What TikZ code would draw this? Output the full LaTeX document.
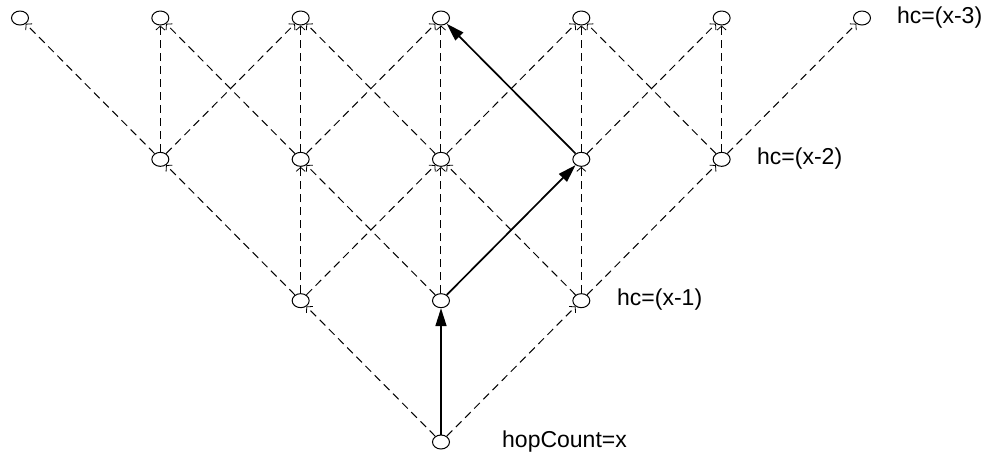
\documentclass[tikz,border=0pt]{standalone}
\usepackage{fontspec}
\setmainfont{Liberation Sans}
\usetikzlibrary{arrows.meta,shapes.geometric}
\begin{document}
\begin{tikzpicture}[x=1pt,y=-1pt,
  hnode/.style={draw=black,ellipse,line width=1pt,minimum width=17pt,minimum height=14pt,inner sep=0pt,fill=white},
  dedge/.style={draw=black,dash pattern=on 8pt off 5pt,line width=1pt,-{Straight Barb[length=4pt,width=9pt,line width=0.8pt]}},
  sedge/.style={draw=black,line width=1.7pt,-{Triangle[length=18pt,width=11pt]}},
  lbl/.style={anchor=west,inner sep=0pt,font=\fontsize{23}{27}\selectfont}]
\useasboundingbox (0,0) rectangle (989,453);
% nodes
\foreach \r/\cmin/\cmax in {0/3/3,1/2/4,2/1/5,3/0/6}{
  \foreach \c in {\cmin,...,\cmax}{
    \node[hnode] (n-\r-\c) at ({20+140.33*\c},{442-141.33*\r}) {};
  }
}
% dashed edges
\foreach \r/\cmin/\cmax in {0/3/3,1/2/4,2/1/5}{
  \pgfmathtruncatemacro\rr{\r+1}
  \foreach \c in {\cmin,...,\cmax}{
    \foreach \d in {-1,0,1}{
      \pgfmathtruncatemacro\tc{\c+\d}
      \pgfmathtruncatemacro\ecode{\r*100+\c*10+\d+1}
      \ifnum\ecode=31 \else\ifnum\ecode=132 \else\ifnum\ecode=240 \else
        \draw[dedge] (n-\r-\c) -- (n-\rr-\tc);
      \fi\fi\fi
    }
  }
}
% solid path
\draw[sedge] (n-0-3) -- (n-1-3);
\draw[sedge] (n-1-3) -- (n-2-4);
\draw[sedge] (n-2-4) -- (n-3-3);
% labels
\node[lbl] (l3) at (897,18) {hc=(x-3)};
\node[lbl] (l2) at (757,159) {hc=(x-2)};
\node[lbl] (l1) at (617,300) {hc=(x-1)};
\node[lbl] (l0) at (502,442) {hopCount=x};
\end{tikzpicture}
\end{document}
